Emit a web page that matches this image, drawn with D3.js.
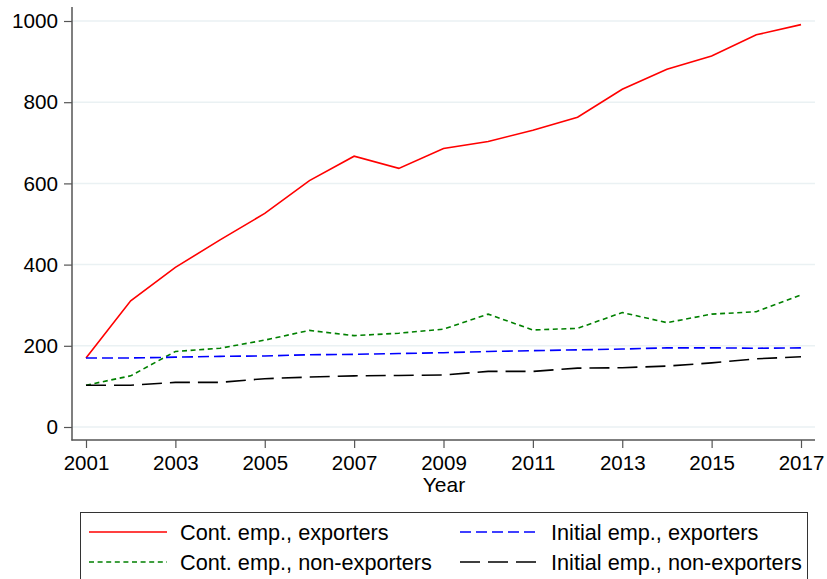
<!DOCTYPE html>
<html>
<head>
<meta charset="utf-8">
<script src="https://cdn.jsdelivr.net/npm/d3@7"></script>
<style>
  html, body { margin: 0; padding: 0; background: #fff; }
  svg { display: block; font-family: "Liberation Sans", Arial, sans-serif; }
</style>
</head>
<body>
<svg id="chart" width="827" height="579"></svg>
<script>
const years = [2001,2002,2003,2004,2005,2006,2007,2008,2009,2010,2011,2012,2013,2014,2015,2016,2017];
const contExporters    = [170,311,393,461,526,607,667,637,686,703,731,763,832,881,914,966,991];
const contNonExporters = [103,126,186,194,214,238,225,231,241,278,239,243,282,257,278,284,325];
const initExporters    = [170,170,172,174,175,178,179,181,183,186,188,190,192,195,195,194,195];
const initNonExporters = [103,103,110,110,119,123,126,127,128,137,137,145,146,150,158,168,173];
const yTicks = [0,200,400,600,800,1000];
const xTicks = [2001,2003,2005,2007,2009,2011,2013,2015,2017];
const seriesNames = ["Cont. emp., exporters","Cont. emp., non-exporters","Initial emp., exporters","Initial emp., non-exporters"];

const series = [
  {name: seriesNames[0], values: contExporters,    color: "#ff0000", dash: null},
  {name: seriesNames[1], values: contNonExporters, color: "#008000", dash: "5,3.6"},
  {name: seriesNames[2], values: initExporters,    color: "#0000ff", dash: "11,5"},
  {name: seriesNames[3], values: initNonExporters, color: "#000000", dash: "20,8"}
];

const svg = d3.select("#chart");
const x = d3.scaleLinear().domain([2001, 2017]).range([86, 801]);
const y = d3.scaleLinear().domain([0, 1000]).range([427, 21]);
const axisColor = "#555555";
const plotLeft = 72, plotRight = 815, axisBottomY = 440, axisTopY = 7;

// gridlines
svg.append("g").selectAll("line").data(yTicks).join("line")
  .attr("x1", plotLeft).attr("x2", plotRight)
  .attr("y1", d => y(d)).attr("y2", d => y(d))
  .attr("stroke", "#eaf1f3").attr("stroke-width", 1.5);

// y axis
const gy = svg.append("g").attr("transform", `translate(${plotLeft},0)`)
  .call(d3.axisLeft(y).tickValues(yTicks).tickSize(8).tickPadding(6).tickFormat(d3.format("d")));
gy.select(".domain").remove();
gy.selectAll(".tick line").attr("stroke", axisColor).attr("stroke-width", 1.2);
gy.selectAll(".tick text").attr("font-size", 20.7).attr("fill", "#000")
  .attr("font-family", "'Liberation Sans', Arial, sans-serif");

// x axis
const gx = svg.append("g").attr("transform", `translate(0,${axisBottomY})`)
  .call(d3.axisBottom(x).tickValues(xTicks).tickSize(8).tickPadding(7).tickFormat(d3.format("d")));
gx.select(".domain").remove();
gx.selectAll(".tick line").attr("stroke", axisColor).attr("stroke-width", 1.2);
gx.selectAll(".tick text").attr("font-size", 20.5).attr("fill", "#000")
  .attr("font-family", "'Liberation Sans', Arial, sans-serif");

// axis lines
svg.append("line").attr("x1", plotLeft).attr("x2", plotLeft)
  .attr("y1", axisTopY).attr("y2", axisBottomY + 0.6)
  .attr("stroke", axisColor).attr("stroke-width", 1.5);
svg.append("line").attr("x1", plotLeft - 0.6).attr("x2", plotRight)
  .attr("y1", axisBottomY).attr("y2", axisBottomY)
  .attr("stroke", axisColor).attr("stroke-width", 1.5);

// x title
svg.append("text").attr("x", (plotLeft + plotRight) / 2 + 0.5).attr("y", 492)
  .attr("text-anchor", "middle").attr("font-size", 21).attr("fill", "#000").text("Year");

// lines
const line = d3.line().x((d, i) => x(years[i])).y(d => y(d));
svg.append("g").selectAll("path").data(series).join("path")
  .attr("d", d => line(d.values))
  .attr("fill", "none")
  .attr("stroke", d => d.color)
  .attr("stroke-width", 1.6)
  .attr("stroke-dasharray", d => d.dash);

// legend
const lg = svg.append("g");
lg.append("rect").attr("x", 80.5).attr("y", 512.5).attr("width", 727).attr("height", 90)
  .attr("fill", "#fff").attr("stroke", "#333").attr("stroke-width", 1);
const legPos = [
  {lx: 89, tx: 180, yy: 532},
  {lx: 89, tx: 180, yy: 562},
  {lx: 460, tx: 551, yy: 532},
  {lx: 460, tx: 551, yy: 562}
];
series.forEach((s, i) => {
  const p = legPos[i];
  lg.append("line").attr("x1", p.lx).attr("x2", p.lx + 78)
    .attr("y1", p.yy).attr("y2", p.yy)
    .attr("stroke", s.color).attr("stroke-width", 1.6)
    .attr("stroke-dasharray", s.dash);
  lg.append("text").attr("x", p.tx).attr("y", p.yy + 7.5)
    .attr("font-size", 21.7).attr("fill", "#000").text(s.name);
});
</script>
</body>
</html>
